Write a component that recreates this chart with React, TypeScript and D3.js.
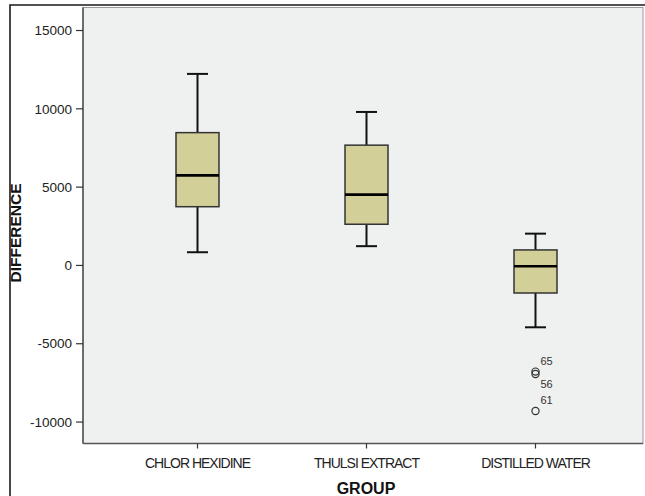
import React from 'react';
import * as d3 from 'd3';

// groups and box statistics
const groups = ['CHLOR HEXIDINE', 'THULSI EXTRACT', 'DISTILLED WATER'];
const whiskerLow = [843, 1230, -3950];
const q1 = [3750, 2630, -1760];
const median = [5750, 4520, -50];
const q3 = [8480, 7680, 990];
const whiskerHigh = [12230, 9800, 2030];

// outliers (case number, value) for the distilled water group
const outlierGroup = ['DISTILLED WATER', 'DISTILLED WATER', 'DISTILLED WATER'];
const outlierCase = ['65', '56', '61'];
const outlierValue = [-6780, -6930, -9290];

const yTicks = [15000, 10000, 5000, 0, -5000, -10000];
const yDomain = [-11370, 16470];

const W = 645;
const H = 496;
const plot = { left: 83, top: 7.5, right: 643, bottom: 443.5 };
const font = 'Arial, "Liberation Sans", sans-serif';

const App = () => {
  const y = d3.scaleLinear().domain(yDomain).range([plot.bottom, plot.top]);
  const x = d3.scalePoint().domain(groups).range([113, 620]).padding(0.5);
  const boxW = 43;
  const capW = 21;

  const outliers = outlierValue
    .map((v, i) => ({ g: outlierGroup[i], id: outlierCase[i], v }))
    .sort((a, b) => b.v - a.v);
  let prevY = -100;
  const placed = outliers.map((o) => {
    const cy = y(o.v);
    const below = Math.abs(cy - prevY) < 10;
    prevY = cy;
    return { ...o, cx: x(o.g), cy, ly: below ? cy + 14 : cy - 7 };
  });

  return (
    <svg width={W} height={H} style={{ position: 'absolute', left: 0, top: 0, background: '#fff' }}>
      {/* outer frame */}
      <path d={`M10,${H + 5}V5H${W + 5}`} fill="none" stroke="#1a1a1a" strokeWidth={1.6} />
      <rect x={plot.left} y={plot.top} width={plot.right - plot.left} height={plot.bottom - plot.top}
        fill="#eff1f0" stroke="#9a9a9a" strokeWidth={1} />
      <line x1={plot.left} x2={plot.left} y1={plot.top} y2={plot.bottom} stroke="#555" strokeWidth={1.6} />
      <line x1={plot.left} x2={plot.right} y1={plot.bottom} y2={plot.bottom} stroke="#555" strokeWidth={1.6} />

      {/* y axis */}
      {yTicks.map((t) => (
        <g key={t}>
          <line x1={plot.left - 7} x2={plot.left} y1={y(t)} y2={y(t)} stroke="#333" strokeWidth={1.2} />
          <text x={plot.left - 11} y={y(t)} dy="0.35em" textAnchor="end" fontFamily={font}
            fontSize={13.5} fill="#222">{t}</text>
        </g>
      ))}
      <text transform={`translate(21,233) rotate(-90)`} textAnchor="middle" fontFamily={font}
        fontWeight="bold" fontSize={15.5} fill="#111">DIFFERENCE</text>

      {/* x axis */}
      {groups.map((g) => (
        <g key={g}>
          <line x1={x(g)} x2={x(g)} y1={plot.bottom} y2={plot.bottom + 5} stroke="#333" strokeWidth={1.2} />
          <text x={x(g)} y={468} textAnchor="middle" fontFamily={font} fontSize={14}
            letterSpacing={-1} fill="#222">{g}</text>
        </g>
      ))}
      <text x={366} y={494} textAnchor="middle" fontFamily={font} fontWeight="bold" fontSize={16}
        fill="#111">GROUP</text>

      {/* boxes */}
      {groups.map((g, i) => {
        const cx = x(g);
        return (
          <g key={g}>
            <line x1={cx} x2={cx} y1={y(whiskerHigh[i])} y2={y(q3[i])} stroke="#111" strokeWidth={2} />
            <line x1={cx} x2={cx} y1={y(q1[i])} y2={y(whiskerLow[i])} stroke="#111" strokeWidth={2} />
            <line x1={cx - capW / 2} x2={cx + capW / 2} y1={y(whiskerHigh[i])} y2={y(whiskerHigh[i])}
              stroke="#111" strokeWidth={2} />
            <line x1={cx - capW / 2} x2={cx + capW / 2} y1={y(whiskerLow[i])} y2={y(whiskerLow[i])}
              stroke="#111" strokeWidth={2} />
            <rect x={cx - boxW / 2} y={y(q3[i])} width={boxW} height={y(q1[i]) - y(q3[i])}
              fill="#d3cf98" stroke="#333" strokeWidth={1.5} />
            <line x1={cx - boxW / 2} x2={cx + boxW / 2} y1={y(median[i])} y2={y(median[i])}
              stroke="#000" strokeWidth={2.6} />
          </g>
        );
      })}

      {/* outliers */}
      {placed.map((o) => (
        <g key={o.id}>
          <circle cx={o.cx} cy={o.cy} r={3.6} fill="none" stroke="#333" strokeWidth={1.2} />
          <text x={o.cx + 5} y={o.ly} fontFamily={font} fontSize={11} fill="#333">{o.id}</text>
        </g>
      ))}
    </svg>
  );
};

export default App;
